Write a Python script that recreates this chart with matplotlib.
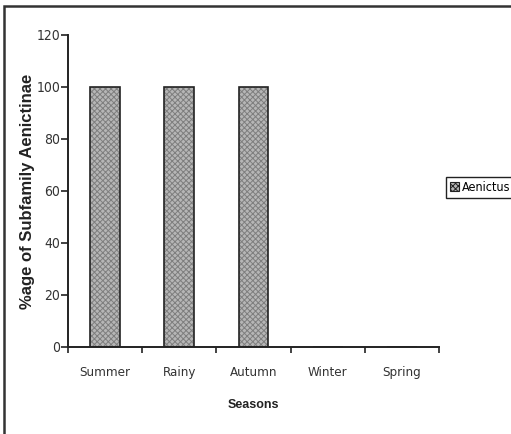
import matplotlib
matplotlib.use("Agg")
import matplotlib.pyplot as plt
from matplotlib.patches import Rectangle
from matplotlib import font_manager

seasons = ["Summer", "Rainy", "Autumn", "Winter", "Spring"]
tick_names = ["Summer", "Rainy", "Autumn", "Winter", "Spring"]
aenictus = [100, 100, 100, 0, 0]
y_ticks = [0, 20, 40, 60, 80, 100, 120]

# prefer a narrow face for the tick labels if one is installed
narrow_file = None
for f in font_manager.fontManager.ttflist:
    if ("Narrow" in f.name or "Condensed" in f.name or f.stretch in ("condensed", "semi-condensed")) \
            and f.weight in (400, "normal", "regular") and f.style == "normal":
        narrow_file = f.fname
        break


def narrow(size):
    if narrow_file:
        return font_manager.FontProperties(fname=narrow_file, size=size)
    return font_manager.FontProperties(family="Liberation Sans", size=size - 1)


plt.rcParams["hatch.linewidth"] = 0.7

fig = plt.figure(figsize=(5.11, 4.34), dpi=100)
W, H = 511, 434
ax = fig.add_axes([68 / W, 1 - 347 / H, (439 - 68) / W, (347 - 35) / H])

x = list(range(len(seasons)))
ax.bar(x, aenictus, width=0.4, color="#b6b6b6", edgecolor="#7e7e7e",
       hatch="xxxxxx", linewidth=0, zorder=2)
ax.bar(x, aenictus, width=0.4, facecolor="none", edgecolor="#222222",
       linewidth=1.2, zorder=3)

ax.set_xlim(-0.5, len(seasons) - 0.5)
ax.set_ylim(0, 120)
ax.set_yticks(y_ticks)
ax.set_yticklabels([str(v) for v in y_ticks], fontproperties=narrow(10), color="#333333")
ax.set_xticks([i + 0.5 for i in range(-1, len(seasons))], minor=False)
ax.set_xticklabels([])
ax.set_xticks(x, minor=True)
ax.set_xticklabels(tick_names, minor=True, fontproperties=narrow(9.5), color="#333333")
ax.tick_params(axis="x", which="minor", length=0, pad=14)
ax.tick_params(axis="x", which="major", length=4, width=1.2, direction="out", color="#222222")
ax.tick_params(axis="y", length=5, width=1.2, direction="out", color="#222222", pad=0.5)

for s in ("top", "right"):
    ax.spines[s].set_visible(False)
for s in ("left", "bottom"):
    ax.spines[s].set_linewidth(1.4)
    ax.spines[s].set_color("#222222")

ax.set_xlabel("Seasons", fontfamily="Liberation Sans", fontweight="bold", fontsize=9,
              color="#222222")
ax.xaxis.set_label_coords(0.5, -(399 - 347) / 312)
ax.set_ylabel("%age of Subfamily Aenictinae", fontfamily="Liberation Sans",
              fontweight="bold", fontsize=12, color="#222222")
ax.yaxis.set_label_coords(-(68 - 35) / 371, 0.5)

# outer chart frame
fig.patches.append(Rectangle((4 / W, -0.05), 1.1, 1 - 6 / H + 0.05, transform=fig.transFigure,
                             fill=False, edgecolor="#333333", linewidth=1.8))

handle = Rectangle((0, 0), 1, 1, facecolor="#b6b6b6", edgecolor="#222222",
                   hatch="xxxxxx", linewidth=0.8)
fig.legend([handle], ["Aenictus"], loc="center left", bbox_to_anchor=(446 / W, 1 - 187.5 / H),
           frameon=True, fancybox=False, edgecolor="#222222", framealpha=1,
           prop=narrow(9), handlelength=0.7,
           handleheight=0.7, handletextpad=0.2, borderpad=0.35, borderaxespad=0)

fig.savefig("out.png", dpi=100, facecolor="white")
